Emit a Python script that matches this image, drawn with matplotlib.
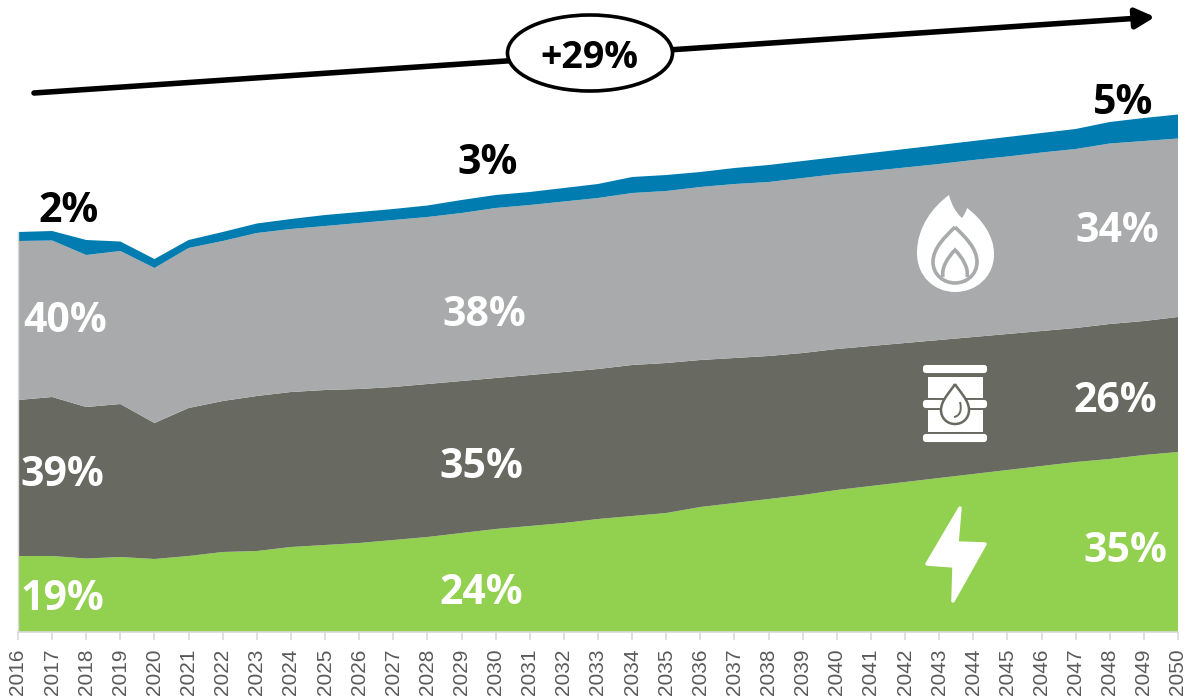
import matplotlib
matplotlib.use('Agg')
import matplotlib.pyplot as plt
import numpy as np
from matplotlib.path import Path
from matplotlib.patches import PathPatch, Ellipse, Polygon, FancyBboxPatch

years = list(range(2016, 2051))

# energy demand per source, arbitrary units
electricity = [76, 76, 73.5, 75, 73, 76, 80, 81, 85, 87, 89, 92, 95, 99, 103, 106, 109, 113,
               116, 119, 125, 129, 133, 137, 142, 146, 150, 154, 158, 162, 166, 170, 173, 177, 180]
oil = [156, 159, 151.5, 153, 136, 148, 151, 155, 155, 155, 154, 153, 153, 152, 151, 151, 151, 150,
       151, 150, 147, 145, 143, 142, 141, 140, 139, 138, 137, 136, 135, 134, 135, 134, 135]
gas = [159, 156.5, 152, 153, 155, 160, 160, 163, 163, 164, 166, 167, 167, 168, 170, 170, 170.5, 171,
       172, 172, 173, 174, 174, 175, 175, 175, 175.5, 176, 177, 177.5, 178.5, 179, 180.5, 180, 178.5]
hydrogen = [9, 9.5, 15, 9.5, 9, 8, 9, 9.5, 10, 11, 11, 11, 11.5, 13, 13, 13, 13.5, 14,
            16, 16, 15, 16, 17, 17, 17, 18, 18.5, 19, 19, 19.5, 19.5, 20, 21.5, 23, 24]

colors = ['#92D050', '#686961', '#A9AAAC', '#007CB0']

white_labels = ['40%', '39%', '19%', '38%', '35%', '24%', '34%', '26%', '35%']
white_pos = [(65, 321), (62, 475), (62, 600), (484, 316), (481, 468), (481, 594),
             (1117, 232), (1115, 402), (1125, 551)]
black_labels = ['2%', '3%', '5%', '+29%']
black_pos = [(69, 211), (488, 164), (1123, 104), (589, 58)]

LABEL_FONT = 'Open Sans'

fig = plt.figure(figsize=(11.86, 7), dpi=100)
fig.patch.set_facecolor('white')

ax = fig.add_axes([18 / 1186, 68 / 700, 1160 / 1186, 632 / 700])
ax.stackplot(years, electricity, oil, gas, hydrogen, colors=colors, linewidth=0)
ax.set_xlim(2016, 2050)
ax.set_ylim(0, 632)
ax.set_yticks([])
ax.set_xticks(years)
ax.set_xticklabels([str(y) for y in years], rotation=90, family='Liberation Sans',
                   fontsize=15, color='#595959')
ax.tick_params(axis='x', length=6, width=1.2, color='#D9D9D9', pad=6)
for s in ['top', 'right']:
    ax.spines[s].set_visible(False)
ax.spines['bottom'].set_color('#D9D9D9')
ax.spines['bottom'].set_linewidth(1.2)
ax.spines['left'].set_color('#D9D9D9')
ax.spines['left'].set_linewidth(1.0)
ax.spines['left'].set_bounds(0, 400)
ax.patch.set_alpha(0)

# overlay in figure pixels for the labels, arrow and icons
ov = fig.add_axes([0, 0, 1, 1])
ov.set_xlim(0, 1186)
ov.set_ylim(700, 0)
ov.axis('off')
ov.patch.set_alpha(0)

ov.annotate('', xy=(1155, 17), xytext=(34, 93),
            arrowprops=dict(arrowstyle='-|>,head_length=11.5,head_width=6', mutation_scale=1,
                            lw=4, color='black', shrinkA=0, shrinkB=0), zorder=3)
ov.add_patch(Ellipse((590, 53), 165, 76, fc='white', ec='black', lw=2.6, zorder=4))

for t, p in zip(white_labels, white_pos):
    ov.text(p[0], p[1], t, color='white', fontsize=29.5, fontweight='bold', family=LABEL_FONT,
            ha='center', va='center', zorder=6)
for t, p in zip(black_labels, black_pos):
    size = 27 if t == '+29%' else 29.5
    ov.text(p[0], p[1], t, color='black', fontsize=size, fontweight='bold', family=LABEL_FONT,
            ha='center', va='center', zorder=6)


def curve(points):
    # points: start, then triples of control, control, end
    codes = [Path.MOVETO] + [Path.CURVE4] * (len(points) - 1)
    return Path(points, codes)


# gas flame
flame = curve([(949, 195),
               (951, 203), (955, 212), (962, 218),
               (964, 215), (966, 212), (967, 208),
               (982, 219), (994, 236), (994, 254),
               (994, 277), (976, 292), (955, 292),
               (934, 292), (917, 276), (917, 253),
               (917, 226), (934, 206), (949, 195)])
ov.add_patch(PathPatch(flame, fc='white', ec='none', zorder=5))
ring = curve([(955, 227),
               (945, 237), (933, 248), (933, 262),
               (933, 275), (944, 283), (955, 283),
               (966, 283), (977, 275), (977, 262),
               (977, 248), (965, 237), (955, 227)])
ov.add_patch(PathPatch(ring, fc='none', ec='#A9AAAC', lw=2.6, zorder=5.5))
inner = curve([(943, 277),
               (941, 268), (948, 257), (955, 250),
               (962, 257), (969, 268), (967, 277)])
ov.add_patch(PathPatch(inner, fc='none', ec='#A9AAAC', lw=2.6, zorder=5.5))
drop = curve([(955, 258),
               (950, 264), (946, 269), (946, 273),
               (946, 277), (950, 279), (955, 279),
               (960, 279), (964, 277), (964, 273),
               (964, 269), (960, 264), (955, 258)])
ov.add_patch(PathPatch(drop, fc='white', ec='none', zorder=5.6))

# oil barrel
ov.add_patch(Polygon([(928, 377), (983, 377), (983, 432), (928, 432)], fc='white', ec='none', zorder=5))
ov.add_patch(Polygon([(928, 398), (983, 398), (983, 400), (928, 400)], fc='#686961', ec='none', zorder=5.1))
ov.add_patch(Polygon([(928, 408), (983, 408), (983, 410), (928, 410)], fc='#686961', ec='none', zorder=5.1))
for y0 in [365, 400, 434]:
    ov.add_patch(FancyBboxPatch((924, y0 + 1), 62, 6, boxstyle='round,pad=0,rounding_size=2',
                                fc='white', ec='white', lw=1.5, zorder=5.2))
oil_drop = curve([(955, 384),
               (951, 391), (941, 400), (941, 410),
               (941, 418), (947, 424), (955, 424),
               (963, 424), (969, 418), (969, 410),
               (969, 400), (959, 391), (955, 384)])
ov.add_patch(PathPatch(oil_drop, fc='white', ec='#686961', lw=1.8, zorder=5.5))
curl = curve([(960, 402), (962, 410), (960, 416), (954, 417)])
ov.add_patch(PathPatch(curl, fc='none', ec='#686961', lw=1.4, zorder=5.6))

# electricity bolt
bolt = [(960, 508), (957, 543), (985, 544), (953, 601), (954, 566), (927, 564)]
ov.add_patch(Polygon(bolt, closed=True, fc='white', ec='white', lw=2.5, joinstyle='round', zorder=5))

fig.savefig('out.png', dpi=100)
